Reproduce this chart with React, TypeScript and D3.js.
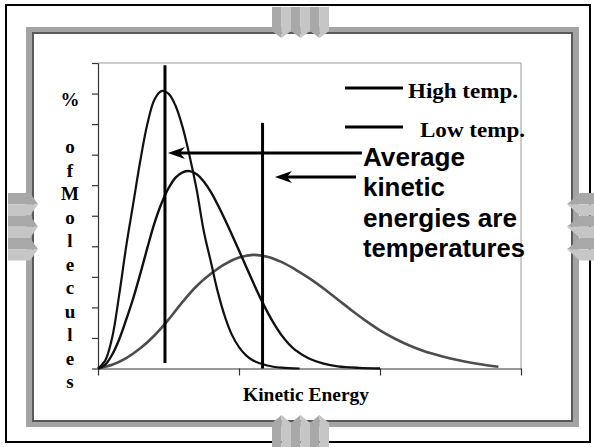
import React, { useRef, useEffect } from 'react';
import * as d3 from 'd3';

// points: [kinetic energy, % of molecules]
const narrowCurve: [number, number][] = [
  [0, 0], [0.5, 0.25], [1, 1.0], [1.5, 2.4], [2, 4.0], [2.5, 5.4], [3, 6.8],
  [3.5, 8.0], [4, 8.8], [4.5, 9.08], [5, 9.0], [5.5, 8.6], [6, 7.9], [6.5, 6.95],
  [7, 5.85], [7.5, 4.5], [8, 3.5], [8.5, 2.5], [9, 1.7], [9.5, 1.1], [10, 0.7],
  [10.5, 0.43], [11, 0.26], [12, 0.1], [13, 0.03], [14.3, 0],
];

const middleCurve: [number, number][] = [
  [0, 0], [0.5, 0.12], [1, 0.45], [1.5, 0.95], [2, 1.6], [2.5, 2.3], [3, 3.1],
  [3.5, 3.95], [4, 4.75], [4.5, 5.4], [5, 5.9], [5.5, 6.25], [6, 6.42], [6.5, 6.46],
  [7, 6.36], [7.5, 6.12], [8, 5.78], [8.5, 5.35], [9, 4.88], [9.5, 4.38], [10, 3.86],
  [10.5, 3.34], [11, 2.82], [11.5, 2.32], [12, 1.86], [12.5, 1.45], [13, 1.1],
  [13.5, 0.82], [14, 0.6], [15, 0.32], [16, 0.16], [17, 0.07], [18.5, 0.02], [20, 0],
];

const broadCurve: [number, number][] = [
  [0, 0], [1, 0.12], [2, 0.34], [3, 0.66], [4, 1.08], [5, 1.6], [6, 2.18], [7, 2.7],
  [8, 3.1], [9, 3.42], [10, 3.63], [11, 3.72], [12, 3.66], [13, 3.49], [14, 3.24],
  [15, 2.95], [16, 2.62], [17, 2.26], [18, 1.9], [19, 1.56], [20, 1.25], [21, 0.99],
  [22, 0.77], [23, 0.59], [24, 0.45], [25, 0.33], [26, 0.23], [27, 0.15], [28.4, 0.06],
];

const yTicks = [0, 1, 2, 3, 4, 5, 6, 7, 8, 9, 10];
const xTicks = [0, 10, 20, 30];

// average energy markers and the arrows pointing at them
const meanLines = [
  { x: 4.75, y0: 0.18, y1: 9.93 },
  { x: 11.67, y0: 0, y1: 8.04 },
];
const arrows = [
  { from: 18.72, to: 4.96, y: 7.05 },
  { from: 18.3, to: 12.55, y: 6.27 },
];

const legendLabels = ['High temp.', 'Low temp.'];
const yLabelLetters = ['o', 'f', 'M', 'o', 'l', 'e', 'c', 'u', 'l', 'e', 's'];
const noteLines = ['Average', 'kinetic', 'energies are', 'temperatures'];
const noteWidths = [102, 82, 154, 162];

const serif = '"Liberation Serif", "Times New Roman", serif';
const sans = '"Liberation Sans", Arial, sans-serif';

const Slide = () => {
  const ref = useRef<SVGSVGElement>(null);

  useEffect(() => {
    const svg = d3.select(ref.current);
    svg.selectAll('*').remove();

    // slide frame
    svg.append('rect').attr('width', 594).attr('height', 447).attr('fill', '#fff');
    svg.append('rect')
      .attr('x', 6).attr('y', 5).attr('width', 584).attr('height', 437)
      .attr('fill', 'none').attr('stroke', '#000').attr('stroke-width', 2);
    svg.append('rect')
      .attr('x', 26).attr('y', 27).attr('width', 553).attr('height', 400)
      .attr('fill', '#a4a4a4');
    svg.append('rect')
      .attr('x', 33).attr('y', 33).attr('width', 539).attr('height', 388)
      .attr('fill', '#fff').attr('stroke', '#5a5a5a').attr('stroke-width', 2);

    // chevron ornaments on each side
    const dark = '#a8a8a8', light = '#c6c6c6';
    [272, 291, 310].forEach(x => {
      const m = x + 9.5;
      svg.append('path').attr('d', `M${x},7H${m}V38L${x},31Z`).attr('fill', dark);
      svg.append('path').attr('d', `M${m},7H${x + 19}V31L${m},38Z`).attr('fill', light);
      svg.append('path').attr('d', `M${x},447V423L${m},415V447Z`).attr('fill', dark);
      svg.append('path').attr('d', `M${m},415L${x + 19},423V447H${m}Z`).attr('fill', light);
    });
    [193, 215.5, 238].forEach(y => {
      const m = y + 11.25;
      svg.append('path').attr('d', `M8,${y}H30L38,${m}H8Z`).attr('fill', dark);
      svg.append('path').attr('d', `M8,${m}H38L30,${y + 22.5}H8Z`).attr('fill', light);
      svg.append('path').attr('d', `M594,${y}H580L567,${m}H594Z`).attr('fill', dark);
      svg.append('path').attr('d', `M594,${m}H567L580,${y + 22.5}H594Z`).attr('fill', light);
    });

    // chart
    const x = d3.scaleLinear().domain([0, 30]).range([98, 521]);
    const y = d3.scaleLinear().domain([0, 10]).range([368.5, 63]);

    svg.append('path')
      .attr('d', `M${x(0)},${y(10)}H${x(30)}V${y(0)}`)
      .attr('fill', 'none').attr('stroke', '#9a9a9a').attr('stroke-width', 1);

    const yAxis = svg.append('g')
      .attr('transform', `translate(${x(0)},0)`)
      .call(d3.axisLeft(y).tickValues(yTicks).tickSize(6).tickSizeOuter(0).tickFormat(() => ''));
    const xAxis = svg.append('g')
      .attr('transform', `translate(0,${y(0)})`)
      .call(d3.axisBottom(x).tickValues(xTicks).tickSize(7).tickSizeOuter(0).tickFormat(() => ''));
    [yAxis, xAxis].forEach(g => g.selectAll('path, line').attr('stroke', '#333').attr('stroke-width', 1.2));

    const line = d3.line<[number, number]>()
      .x(d => x(d[0]))
      .y(d => y(d[1]))
      .curve(d3.curveCatmullRom.alpha(0.5));

    svg.append('path').datum(broadCurve).attr('d', line)
      .attr('fill', 'none').attr('stroke', '#4d4d4d').attr('stroke-width', 2.6);
    svg.append('path').datum(middleCurve).attr('d', line)
      .attr('fill', 'none').attr('stroke', '#111').attr('stroke-width', 2.4);
    svg.append('path').datum(narrowCurve).attr('d', line)
      .attr('fill', 'none').attr('stroke', '#111').attr('stroke-width', 2.2);

    svg.selectAll('.mean')
      .data(meanLines)
      .enter()
      .append('line')
      .attr('x1', d => x(d.x)).attr('x2', d => x(d.x))
      .attr('y1', d => y(d.y0)).attr('y2', d => y(d.y1))
      .attr('stroke', '#000').attr('stroke-width', 3);

    arrows.forEach(a => {
      const tx = x(a.to), ty = y(a.y);
      svg.append('line')
        .attr('x1', x(a.from)).attr('x2', tx + 12)
        .attr('y1', ty).attr('y2', ty)
        .attr('stroke', '#000').attr('stroke-width', 3);
      svg.append('path')
        .attr('d', `M${tx},${ty}L${tx + 17},${ty - 6}L${tx + 12},${ty}L${tx + 17},${ty + 6}Z`)
        .attr('fill', '#000');
    });

    // legend
    legendLabels.forEach((label, i) => {
      const ly = i === 0 ? 88 : 127;
      svg.append('line')
        .attr('x1', 345).attr('x2', 403).attr('y1', ly).attr('y2', ly)
        .attr('stroke', '#000').attr('stroke-width', 3);
      svg.append('text')
        .attr('x', i === 0 ? 408 : 420).attr('y', ly + 10)
        .attr('font-family', serif).attr('font-weight', 'bold').attr('font-size', 20)
        .attr('textLength', i === 0 ? 110 : 105).attr('lengthAdjust', 'spacingAndGlyphs')
        .text(label);
    });

    // note text
    noteLines.forEach((t, i) => {
      svg.append('text')
        .attr('x', 363).attr('y', 166 + i * 30.3)
        .attr('font-family', sans).attr('font-weight', 'bold').attr('font-size', 25)
        .attr('textLength', noteWidths[i]).attr('lengthAdjust', 'spacingAndGlyphs')
        .text(t);
    });

    // axis titles
    svg.append('text')
      .attr('x', 70).attr('y', 106).attr('text-anchor', 'middle')
      .attr('font-family', serif).attr('font-weight', 'bold').attr('font-size', 19)
      .text('%');
    yLabelLetters.forEach((c, i) => {
      svg.append('text')
        .attr('x', 70).attr('y', 153 + i * 23.5).attr('text-anchor', 'middle')
        .attr('font-family', serif).attr('font-weight', 'bold').attr('font-size', 19)
        .text(c);
    });
    svg.append('text')
      .attr('x', 306).attr('y', 401).attr('text-anchor', 'middle')
      .attr('font-family', serif).attr('font-weight', 'bold').attr('font-size', 18)
      .attr('textLength', 126).attr('lengthAdjust', 'spacingAndGlyphs')
      .text('Kinetic Energy');
  }, []);

  return (
    <svg ref={ref} width={594} height={447}
      style={{ position: 'absolute', left: 0, top: 0, display: 'block' }} />
  );
};

export default function App() {
  return <Slide />;
}
